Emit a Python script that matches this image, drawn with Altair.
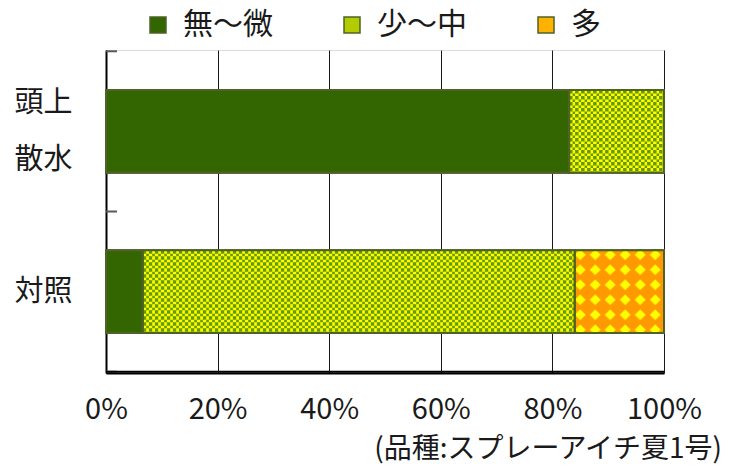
import base64
import altair as alt
import pandas as pd

# ---- data ----
categories = ["頭上\n散水", "対照"]
levels = ["無〜微", "少〜中", "多"]
share_head = [0.83, 0.17, 0.0]      # 頭上散水
share_ctrl = [0.066, 0.774, 0.16]   # 対照
x_ticks = [0, 0.2, 0.4, 0.6, 0.8, 1.0]
note = "(品種:スプレーアイチ夏1号)"

# ---- styles ----
FONT = "Noto Sans CJK JP"
FS = 29
DARK = "#336600"
CHK_G = "#669900"
YEL = "#FFFF00"
ORA = "#FF9900"
EDGE = "#4F6228"
TXT = "#1a1a1a"
legend_colors = [DARK, "#B3CC00", "#FFB300"]
W, H = 558, 323
PAD_IN, PAD_OUT = 0.484, 0.25


def svg_uri(svg):
    return "data:image/svg+xml;base64," + base64.b64encode(svg.encode("utf-8")).decode("ascii")


CHECK_SVG = (
    "<svg xmlns='http://www.w3.org/2000/svg' width='100%' height='100%' shape-rendering='crispEdges'>"
    "<defs><pattern id='p' width='6' height='6' patternUnits='userSpaceOnUse'>"
    f"<rect width='6' height='6' fill='{YEL}'/>"
    f"<rect width='3' height='3' fill='{CHK_G}'/><rect x='3' y='3' width='3' height='3' fill='{CHK_G}'/>"
    "</pattern></defs><rect width='100%' height='100%' fill='url(#p)'/></svg>"
)
DIAMOND_SVG = (
    "<svg xmlns='http://www.w3.org/2000/svg' width='100%' height='100%'>"
    "<defs><pattern id='d' x='-2' y='-3' width='15' height='15' patternUnits='userSpaceOnUse'>"
    f"<rect width='15' height='15' fill='{ORA}'/>"
    f"<polygon points='7.5,2 13,7.5 7.5,13 2,7.5' fill='{YEL}'/>"
    "</pattern></defs><rect width='100%' height='100%' fill='url(#d)'/></svg>"
)
PATTERNS = {"少〜中": svg_uri(CHECK_SVG), "多": svg_uri(DIAMOND_SVG)}

rows = []
for cat, shares in zip(categories, [share_head, share_ctrl]):
    start = 0.0
    for lvl, v in zip(levels, shares):
        if v > 0:
            rows.append({"cat": cat, "level": lvl, "start": start, "end": start + v,
                         "url": PATTERNS.get(lvl, "")})
        start += v
df = pd.DataFrame(rows)
cat_df = pd.DataFrame({"cat": categories})

yscale = alt.Scale(domain=categories, paddingInner=PAD_IN, paddingOuter=PAD_OUT)
xscale = alt.Scale(domain=[0, 1])
# half of the inner padding gap: distance from a band edge to the category boundary
step = H / (len(categories) - PAD_IN + 2 * PAD_OUT)
gap = step * PAD_IN / 2

x_enc = alt.X("start:Q", scale=xscale, axis=alt.Axis(
    values=x_ticks, format=".0%", title=None, grid=True, gridColor=TXT, gridWidth=1,
    ticks=False, domain=True, domainColor="#000000", domainWidth=2, labelFlush=False,
    labelFont=FONT, labelFontSize=FS, labelColor=TXT, labelPadding=22))

base = alt.Chart(df)

bars = base.mark_bar(stroke=EDGE, strokeWidth=2).encode(
    x=x_enc,
    x2="end:Q",
    y=alt.Y("cat:N", scale=yscale, axis=alt.Axis(
        title=None, ticks=False, domain=True, domainColor="#000000", domainWidth=2,
        labelExpr="split(datum.label, '\\n')", labelFont=FONT, labelFontSize=FS,
        labelColor=TXT, labelLineHeight=57, labelPadding=34, labelAlign="right",
        labelBaseline="middle",
        labelOffset={"expr": "(length(split(datum.value, '\\n')) - 1) * -28.5"},
        orient="left")),
    color=alt.Color("level:N", scale=alt.Scale(domain=levels, range=legend_colors),
                    legend=alt.Legend(title=None, orient="none", legendX=37, legendY=-40,
                                      direction="horizontal", symbolType="square",
                                      symbolSize=256, symbolStrokeColor=EDGE,
                                      symbolStrokeWidth=1.5, symbolOpacity=1,
                                      labelFont=FONT, labelFontSize=30, labelColor=TXT,
                                      columnPadding=64, labelOffset=10)),
)

patterns = base.transform_filter("datum.url != ''").mark_image(aspect=False).encode(
    x=alt.X("start:Q", scale=xscale),
    x2="end:Q",
    y=alt.Y("cat:N", scale=yscale),
    url="url:N",
)

outline = base.mark_bar(fillOpacity=0, stroke=EDGE, strokeWidth=2).encode(
    x=alt.X("start:Q", scale=xscale),
    x2="end:Q",
    y=alt.Y("cat:N", scale=yscale),
)

# category separator ticks, pointing into the plot from the y axis
sep_top = alt.Chart(cat_df).mark_rule(color="#595959", strokeWidth=2, yOffset=-gap).encode(
    y=alt.Y("cat:N", scale=yscale, bandPosition=0),
    x=alt.value(0), x2=alt.value(11),
)
last_cat = alt.Chart(cat_df).transform_filter(
    alt.FieldEqualPredicate(field="cat", equal=categories[-1]))
sep_bottom = last_cat.mark_rule(color="#595959", strokeWidth=2, yOffset=gap).encode(
    y=alt.Y("cat:N", scale=yscale, bandPosition=1),
    x=alt.value(0), x2=alt.value(11),
)
# bottom baseline of the plot, from 0% to 100%
baseline = last_cat.mark_rule(color="#000000", strokeWidth=2, yOffset=gap).encode(
    y=alt.Y("cat:N", scale=yscale, bandPosition=1),
    x=alt.datum(0, scale=xscale), x2=alt.datum(1),
)

chart = alt.layer(bars, patterns, outline, sep_top, sep_bottom, baseline).properties(
    width=W, height=H,
    autosize=alt.AutoSizeParams(type="none"),
    padding={"left": 106, "top": 50, "right": 69, "bottom": 93},
    title=alt.TitleParams(note, orient="bottom", anchor="end", frame="group", font=FONT,
                          fontSize=28, fontWeight="normal", color=TXT, dx=58, offset=12),
).configure_view(stroke=None).configure(background="white")

chart.save("out.html", embed_options={"renderer": "svg", "actions": False})
